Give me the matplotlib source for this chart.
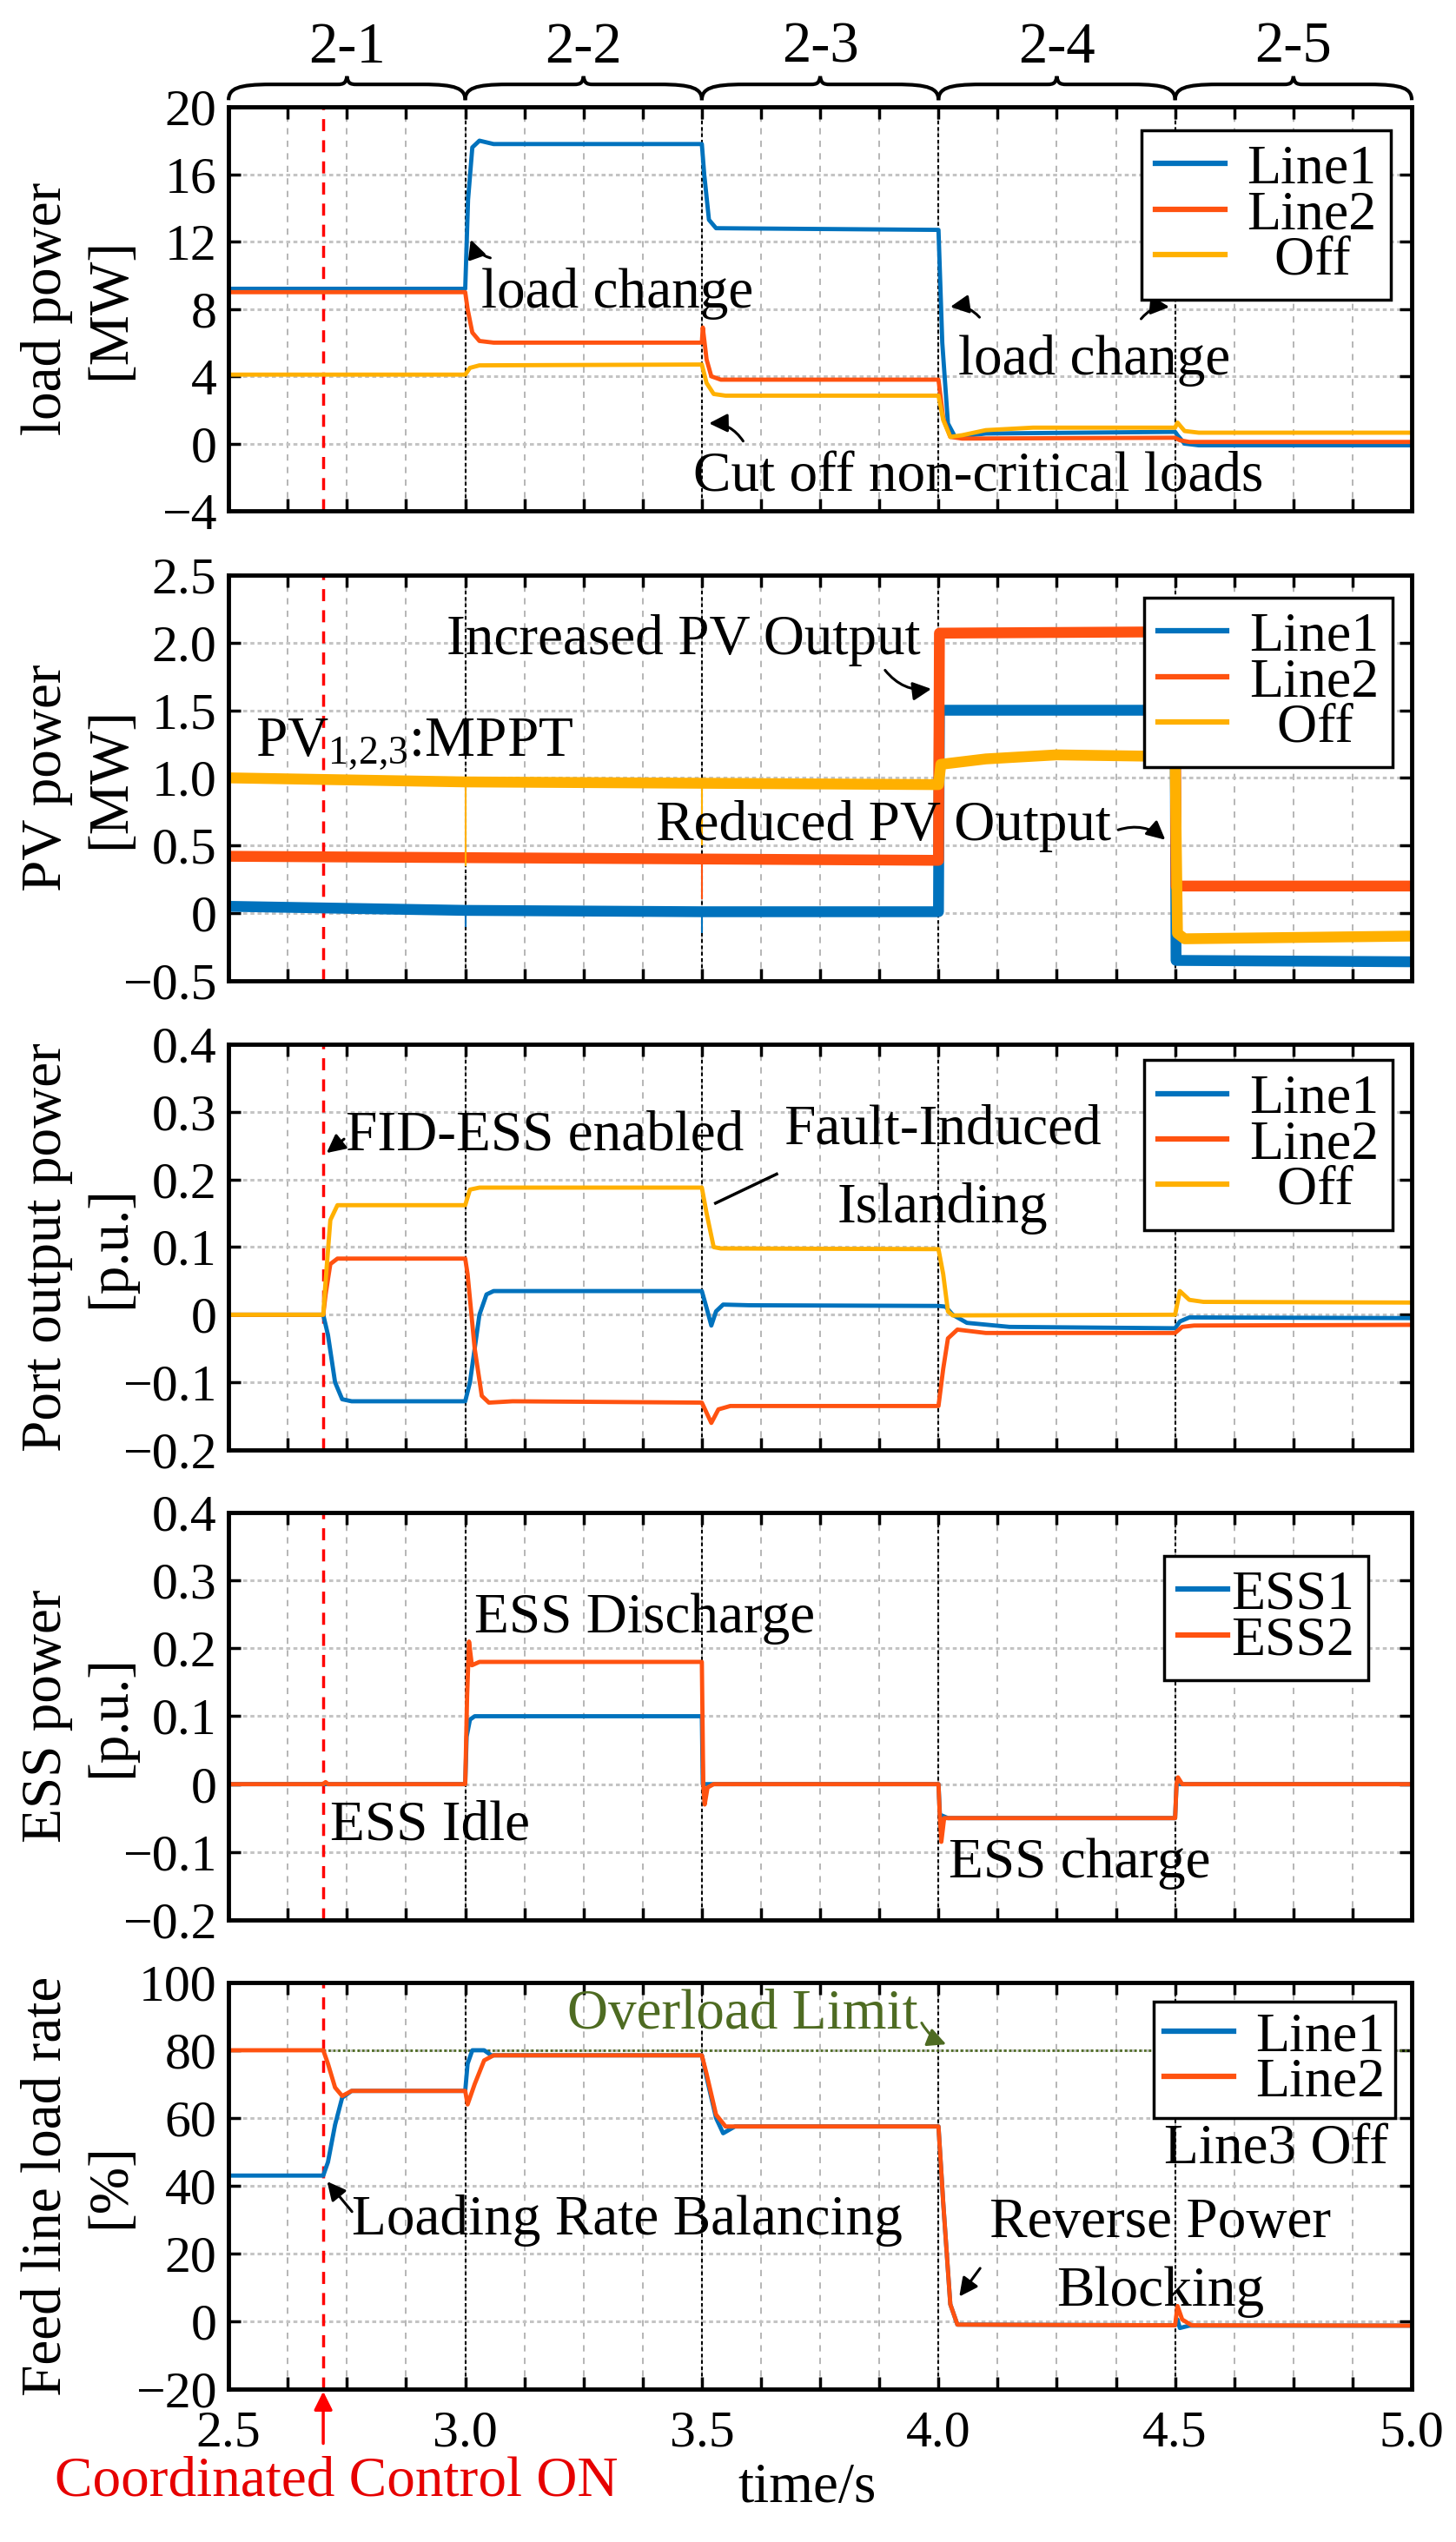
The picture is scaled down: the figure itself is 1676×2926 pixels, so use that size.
import numpy as np
import matplotlib
matplotlib.use("Agg")
import matplotlib.pyplot as plt
import matplotlib.transforms as mtransforms
from matplotlib.path import Path
from matplotlib.patches import PathPatch
from matplotlib.lines import Line2D

plt.rcParams['font.family'] = ['Liberation Serif', 'DejaVu Serif']
plt.rcParams['mathtext.fontset'] = 'custom'
plt.rcParams['mathtext.rm'] = 'Liberation Serif'
plt.rcParams['mathtext.it'] = 'Liberation Serif:italic'

C_BLUE = '#0072BD'
C_RED = '#FF5210'
C_YEL = '#FFB000'
C_GREEN = '#4E6B22'

# faser
phase_edges = [2.5, 3.0, 3.5, 4.0, 4.5, 5.0]
phase_names = ['2-1', '2-2', '2-3', '2-4', '2-5']
t_ctrl = 2.7

# --- load power [MW]
load1_t = [2.5, 3.0, 3.006, 3.015, 3.03, 3.06, 3.5, 3.505, 3.515, 3.53, 4.0, 4.008, 4.02, 4.035, 4.1, 4.5, 4.505, 4.52, 4.55, 5.0]
load1_v = [9.2, 9.2, 14.5, 17.6, 18.0, 17.8, 17.8, 16.0, 13.3, 12.8, 12.7, 6.0, 1.2, 0.4, 0.6, 0.7, 0.5, 0.0, -0.1, -0.1]
load2_t = [2.5, 3.0, 3.005, 3.015, 3.03, 3.06, 3.5, 3.502, 3.51, 3.52, 3.54, 4.0, 4.01, 4.025, 4.05, 4.5, 4.51, 4.53, 5.0]
load2_v = [9.0, 9.0, 8.0, 6.6, 6.1, 6.0, 6.0, 6.9, 5.0, 4.0, 3.8, 3.8, 1.5, 0.4, 0.3, 0.35, 0.2, 0.1, 0.1]
loadoff_t = [2.5, 3.0, 3.01, 3.03, 3.5, 3.51, 3.525, 3.55, 4.0, 4.01, 4.025, 4.05, 4.1, 4.2, 4.5, 4.505, 4.52, 4.55, 5.0]
loadoff_v = [4.1, 4.1, 4.5, 4.65, 4.7, 3.6, 2.95, 2.85, 2.85, 1.4, 0.4, 0.5, 0.8, 0.95, 0.95, 1.25, 0.75, 0.65, 0.65]

# --- PV power [MW]
pv1_t = [2.5, 3.0, 3.5, 4.0, 4.002, 4.5, 4.502, 5.0]
pv1_v = [0.05, 0.02, 0.01, 0.01, 1.5, 1.5, -0.35, -0.36]
pv2_t = [2.5, 3.5, 4.0, 4.002, 4.5, 4.502, 5.0]
pv2_v = [0.42, 0.40, 0.39, 2.07, 2.08, 0.2, 0.2]
pvoff_t = [2.5, 3.0, 3.5, 4.0, 4.005, 4.1, 4.25, 4.45, 4.5, 4.505, 4.52, 5.0]
pvoff_v = [1.0, 0.97, 0.96, 0.95, 1.1, 1.14, 1.17, 1.16, 1.15, -0.15, -0.19, -0.17]
# korta spikar vid omkopplingarna
pv1_spike_t, pv1_spike_lo = [3.0, 3.5], [-0.1, -0.15]
pv2_spike_t, pv2_spike_lo = [3.5], [0.1]
pvoff_spike_t, pvoff_spike_lo = [3.0, 3.5], [0.35, 0.5]

# --- port output power [p.u.]
port1_t = [2.5, 2.7, 2.71, 2.725, 2.74, 2.76, 3.0, 3.01, 3.03, 3.045, 3.06, 3.5, 3.51, 3.52, 3.53, 3.545, 3.6, 4.0, 4.015, 4.03, 4.06, 4.15, 4.5, 4.51, 4.53, 5.0]
port1_v = [0, 0, -0.03, -0.1, -0.125, -0.128, -0.128, -0.1, 0.0, 0.03, 0.035, 0.035, 0.01, -0.016, 0.005, 0.015, 0.014, 0.013, 0.012, 0.0, -0.012, -0.018, -0.02, -0.01, -0.004, -0.005]
port2_t = [2.5, 2.7, 2.705, 2.715, 2.73, 3.0, 3.005, 3.02, 3.035, 3.05, 3.1, 3.5, 3.51, 3.52, 3.535, 3.56, 4.0, 4.01, 4.02, 4.04, 4.1, 4.5, 4.515, 4.54, 5.0]
port2_v = [0, 0, 0.03, 0.075, 0.083, 0.083, 0.06, -0.05, -0.12, -0.13, -0.128, -0.13, -0.145, -0.16, -0.14, -0.135, -0.135, -0.08, -0.035, -0.022, -0.027, -0.027, -0.018, -0.016, -0.015]
portoff_t = [2.5, 2.7, 2.705, 2.715, 2.73, 3.0, 3.01, 3.03, 3.5, 3.51, 3.525, 3.54, 4.0, 4.01, 4.02, 4.03, 4.5, 4.51, 4.53, 4.56, 5.0]
portoff_v = [0, 0, 0.05, 0.14, 0.162, 0.162, 0.185, 0.188, 0.188, 0.15, 0.1, 0.098, 0.097, 0.06, 0.005, -0.001, 0.0, 0.035, 0.022, 0.019, 0.018]

# --- ESS power [p.u.]
ess1_t = [2.5, 3.0, 3.003, 3.01, 3.02, 3.5, 3.502, 4.0, 4.003, 4.02, 4.5, 4.503, 5.0]
ess1_v = [0, 0, 0.07, 0.095, 0.1, 0.1, 0.0, 0, -0.045, -0.05, -0.05, 0, 0]
ess2_t = [2.5, 2.7, 2.705, 2.71, 3.0, 3.004, 3.008, 3.014, 3.03, 3.5, 3.503, 3.506, 3.512, 3.525, 4.0, 4.003, 4.006, 4.012, 4.5, 4.503, 4.506, 4.515, 5.0]
ess2_v = [0, 0, 0.003, 0, 0, 0.13, 0.21, 0.175, 0.18, 0.18, 0.0, -0.03, -0.005, 0, 0, -0.05, -0.085, -0.05, -0.05, 0.0, 0.01, 0.0, 0]

# --- feed line load rate [%]
rate1_t = [2.5, 2.7, 2.71, 2.725, 2.74, 2.76, 3.0, 3.005, 3.015, 3.04, 3.055, 3.5, 3.51, 3.53, 3.545, 3.57, 4.0, 4.01, 4.025, 4.04, 4.5, 4.505, 4.51, 4.53, 5.0]
rate1_v = [43, 43, 47, 58, 66, 68, 68, 76, 80, 80, 78.5, 78.5, 72, 60, 55.5, 57.5, 57.5, 35, 5, -1, -1.2, 0.5, -2, -1.3, -1.3]
rate2_t = [2.5, 2.7, 2.71, 2.725, 2.74, 2.76, 3.0, 3.005, 3.02, 3.04, 3.06, 3.5, 3.51, 3.53, 3.55, 4.0, 4.01, 4.025, 4.04, 4.5, 4.505, 4.515, 4.535, 5.0]
rate2_v = [80, 80, 76, 69, 66.5, 68, 68, 64, 70, 77, 78.5, 78.5, 73, 61, 57.5, 57.5, 35, 5, -1, -1.2, 4.5, 0.5, -1.2, -1.3]
overload_limit = 80

fig = plt.figure(figsize=(16.76, 29.26), dpi=100)
L, W = 0.157, 0.8126
ax1 = fig.add_axes([L, 0.7990, W, 0.1589])
ax2 = fig.add_axes([L, 0.6142, W, 0.1596])
ax3 = fig.add_axes([L, 0.4296, W, 0.1596])
ax4 = fig.add_axes([L, 0.2447, W, 0.1603])
ax5 = fig.add_axes([L, 0.0602, W, 0.1599])

xt = np.arange(2.5, 5.0001, 0.125)
xl = ['%.1f' % x if abs(x * 2 - round(x * 2)) < 1e-9 else '' for x in xt]


def setup(ax, ylim, yt, ytl, ylab, showx=False):
    ax.set_xlim(2.5, 5.0)
    ax.set_ylim(*ylim)
    ax.set_xticks(xt)
    ax.set_xticklabels(xl if showx else [''] * len(xt))
    ax.set_yticks(yt)
    ax.set_yticklabels(ytl)
    ax.tick_params(direction='in', top=True, right=True, length=10, width=2.5,
                   labelsize=43)
    ax.tick_params(axis='y', pad=10)
    ax.tick_params(axis='x', pad=18)
    for s in ax.spines.values():
        s.set_linewidth(3.5)
    ax.xaxis.grid(True, ls=(0, (4, 4)), color='#b0b0b0', lw=1.3)
    ax.yaxis.grid(True, ls=(0, (1.5, 1.2)), color='#c4c4c4', lw=2.2)
    ax.set_axisbelow(True)
    for x in phase_edges[1:-1]:
        ax.axvline(x, color='k', ls=(0, (2, 1.5)), lw=1.5, zorder=1.5)
    ax.axvline(t_ctrl, color='red', ls=(0, (4, 3)), lw=2.5, zorder=1.6)
    ax.set_ylabel(ylab, fontsize=47, linespacing=1.3)
    ax.yaxis.set_label_coords(-0.078, 0.5)


def legend(ax, colors, labels, anchor, hl=1.25, htp=0.4, bp=0.25):
    hs = [Line2D([], [], color=c, lw=4.5) for c in colors]
    leg = ax.legend(hs, labels, loc='upper right', bbox_to_anchor=anchor,
                    borderaxespad=0, fontsize=46, handlelength=hl,
                    handletextpad=htp, labelspacing=-0.1, borderpad=bp,
                    fancybox=False, edgecolor='k', framealpha=1)
    leg.get_frame().set_linewidth(2.5)
    leg.set_zorder(10)


def arrow(ax, tail, head, rad=0.0, color='k', lw=2.2):
    ax.annotate('', xy=head, xytext=tail,
                arrowprops=dict(arrowstyle='-|>', color=color, lw=lw,
                                mutation_scale=32,
                                connectionstyle='arc3,rad=%g' % rad))


# panel 1
setup(ax1, (-4, 20), [-4, 0, 4, 8, 12, 16, 20],
      ['\u22124', '0', '4', '8', '12', '16', '20'], 'load power\n[MW]')
ax1.plot(load1_t, load1_v, color=C_BLUE, lw=3.5)
ax1.plot(load2_t, load2_v, color=C_RED, lw=3.5)
ax1.plot(loadoff_t, loadoff_v, color=C_YEL, lw=3.5)
legend(ax1, [C_BLUE, C_RED, C_YEL], ['Line1', 'Line2', '  Off'], (0.982, 0.942))
ax1.text(3.034, 8.9, 'load change', fontsize=47, va='center', ha='left')
arrow(ax1, (3.058, 11.0), (3.01, 12.26), rad=-0.3)
ax1.text(4.041, 4.93, 'load change', fontsize=47, va='center', ha='left')
arrow(ax1, (4.09, 7.4), (4.02, 8.1), rad=0.3)
arrow(ax1, (4.425, 7.3), (4.493, 8.1), rad=-0.3)
ax1.text(3.482, -2.0, 'Cut off non-critical loads', fontsize=47, va='center', ha='left')
arrow(ax1, (3.59, 0.03), (3.51, 1.2), rad=0.3)

# krullparenteser ovanför panel 1
bt = mtransforms.blended_transform_factory(ax1.transData, ax1.transAxes)
for i, name in enumerate(phase_names):
    x0, x1 = phase_edges[i], phase_edges[i + 1]
    xm = (x0 + x1) / 2
    e, f, tip = 1.017, 1.056, 1.076
    verts = [(x0, e), (x0, f - 0.01), (x0 + 0.02, f), (x0 + 0.09, f),
             (xm - 0.02, f),
             (xm - 0.006, f), (xm - 0.002, f + 0.004), (xm, tip),
             (xm + 0.002, f + 0.004), (xm + 0.006, f), (xm + 0.02, f),
             (x1 - 0.09, f),
             (x1 - 0.02, f), (x1, f - 0.01), (x1, e)]
    codes = [Path.MOVETO, Path.CURVE4, Path.CURVE4, Path.CURVE4,
             Path.LINETO,
             Path.CURVE4, Path.CURVE4, Path.CURVE4,
             Path.CURVE4, Path.CURVE4, Path.CURVE4,
             Path.LINETO,
             Path.CURVE4, Path.CURVE4, Path.CURVE4]
    ax1.add_patch(PathPatch(Path(verts, codes), fill=False, lw=3,
                            transform=bt, clip_on=False))
    ax1.text(xm, 1.146, name, transform=bt, fontsize=48, ha='center', va='center')

# panel 2
setup(ax2, (-0.5, 2.5), [-0.5, 0, 0.5, 1.0, 1.5, 2.0, 2.5],
      ['\u22120.5', '0', '0.5', '1.0', '1.5', '2.0', '2.5'], 'PV power\n[MW]')
ax2.plot(pv1_t, pv1_v, color=C_BLUE, lw=9)
ax2.plot(pv2_t, pv2_v, color=C_RED, lw=9)
ax2.plot(pvoff_t, pvoff_v, color=C_YEL, lw=9)
ax2.vlines(pv1_spike_t, pv1_spike_lo, np.interp(pv1_spike_t, pv1_t, pv1_v), color=C_BLUE, lw=1.5)
ax2.vlines(pv2_spike_t, pv2_spike_lo, np.interp(pv2_spike_t, pv2_t, pv2_v), color=C_RED, lw=1.5)
ax2.vlines(pvoff_spike_t, pvoff_spike_lo, np.interp(pvoff_spike_t, pvoff_t, pvoff_v), color=C_YEL, lw=1.5)
legend(ax2, [C_BLUE, C_RED, C_YEL], ['Line1', 'Line2', '  Off'], (0.984, 0.944))
ax2.text(3.962, 2.02, 'Increased PV Output', fontsize=47, va='center', ha='right')
arrow(ax2, (3.884, 1.81), (3.99, 1.66), rad=0.3)
ax2.text(2.557, 1.16, 'PV$_{1{,}2{,}3}$:MPPT', fontsize=47, va='baseline', ha='left')
ax2.text(3.403, 0.644, 'Reduced PV Output', fontsize=47, va='center', ha='left')
arrow(ax2, (4.375, 0.61), (4.483, 0.53), rad=-0.3)

# panel 3
setup(ax3, (-0.2, 0.4), [-0.2, -0.1, 0, 0.1, 0.2, 0.3, 0.4],
      ['\u22120.2', '\u22120.1', '0', '0.1', '0.2', '0.3', '0.4'],
      'Port output power\n[p.u.]')
ax3.plot(port1_t, port1_v, color=C_BLUE, lw=3.5)
ax3.plot(port2_t, port2_v, color=C_RED, lw=3.5)
ax3.plot(portoff_t, portoff_v, color=C_YEL, lw=3.5)
legend(ax3, [C_BLUE, C_RED, C_YEL], ['Line1', 'Line2', '  Off'], (0.984, 0.961))
ax3.text(2.748, 0.264, 'FID-ESS enabled', fontsize=47, va='center', ha='left')
arrow(ax3, (2.748, 0.262), (2.703, 0.237))
ax3.text(4.008, 0.273, 'Fault-Induced', fontsize=47, va='center', ha='center')
ax3.text(4.008, 0.157, 'Islanding', fontsize=47, va='center', ha='center')
ax3.plot([3.658, 3.529], [0.208, 0.165], color='k', lw=2.5)

# panel 4
setup(ax4, (-0.2, 0.4), [-0.2, -0.1, 0, 0.1, 0.2, 0.3, 0.4],
      ['\u22120.2', '\u22120.1', '0', '0.1', '0.2', '0.3', '0.4'],
      'ESS power\n[p.u.]')
ax4.plot(ess1_t, ess1_v, color=C_BLUE, lw=3.5)
ax4.plot(ess2_t, ess2_v, color=C_RED, lw=3.5)
legend(ax4, [C_BLUE, C_RED], ['ESS1', 'ESS2'], (0.963, 0.893), hl=0.9, htp=0.05)
ax4.text(3.019, 0.244, 'ESS Discharge', fontsize=47, va='center', ha='left')
ax4.text(2.715, -0.062, 'ESS Idle', fontsize=47, va='center', ha='left')
ax4.text(4.021, -0.117, 'ESS charge', fontsize=47, va='center', ha='left')

# panel 5
setup(ax5, (-20, 100), [-20, 0, 20, 40, 60, 80, 100],
      ['\u221220', '0', '20', '40', '60', '80', '100'],
      'Feed line load rate\n[%]', showx=True)
ax5.plot([t_ctrl, 5.0], [overload_limit, overload_limit], color=C_GREEN,
         ls=(0, (1, 1)), lw=2, zorder=1.7)
ax5.plot(rate1_t, rate1_v, color=C_BLUE, lw=3.5)
ax5.plot(rate2_t, rate2_v, color=C_RED, lw=3.5)
legend(ax5, [C_BLUE, C_RED], ['Line1', 'Line2'], (0.986, 0.953), bp=0.18)
ax5.text(3.216, 90.5, 'Overload Limit', fontsize=47, va='center', ha='left', color=C_GREEN)
arrow(ax5, (3.962, 88.7), (4.021, 81.5), rad=0.2, color=C_GREEN)
ax5.text(2.76, 29.7, 'Loading Rate Balancing', fontsize=47, va='center', ha='left')
arrow(ax5, (2.764, 31.8), (2.705, 41.8))
ax5.text(4.468, 29.0, 'Reverse Power', fontsize=47, va='center', ha='center')
ax5.text(4.468, 8.7, 'Blocking', fontsize=47, va='center', ha='center')
arrow(ax5, (4.091, 16.2), (4.041, 6.7))
ax5.text(4.951, 50.5, 'Line3 Off', fontsize=47, va='center', ha='right')

bt5 = mtransforms.blended_transform_factory(ax5.transData, ax5.transAxes)
ax5.annotate('', xy=(t_ctrl, 0.0), xycoords=bt5, xytext=(t_ctrl, -0.14),
             textcoords=bt5,
             arrowprops=dict(arrowstyle='-|>', color='red', lw=2.5, mutation_scale=32))
ax5.text(0.091, -0.229, 'Coordinated Control ON', transform=ax5.transAxes,
         fontsize=47, color='#E60000', ha='center', va='center')
ax5.text(0.489, -0.245, 'time/s', transform=ax5.transAxes, fontsize=47,
         ha='center', va='center')

fig.savefig('out.png', dpi=100)
